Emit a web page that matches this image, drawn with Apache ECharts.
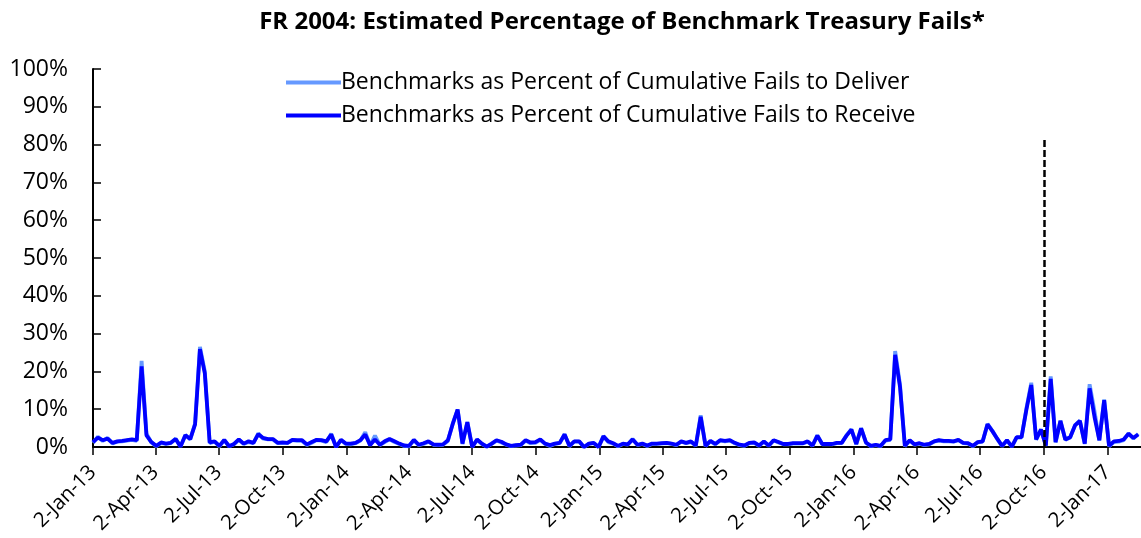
<!DOCTYPE html>
<html>
<head>
<meta charset="utf-8">
<script src="https://cdn.jsdelivr.net/npm/echarts@6/dist/echarts.min.js"></script>
<style>
html,body{margin:0;padding:0;background:#fff;}
#chart{width:1141px;height:538px;}
</style>
</head>
<body>
<div id="chart"></div>
<script>
// ---- data ----
const startDate = '2-Jan-13';           // first weekly observation
const weekStepDays = 7;
const tickLabels = ['2-Jan-13','2-Apr-13','2-Jul-13','2-Oct-13','2-Jan-14','2-Apr-14','2-Jul-14','2-Oct-14',
  '2-Jan-15','2-Apr-15','2-Jul-15','2-Oct-15','2-Jan-16','2-Apr-16','2-Jul-16','2-Oct-16','2-Jan-17'];
const seriesNames = ['Benchmarks as Percent of Cumulative Fails to Deliver','Benchmarks as Percent of Cumulative Fails to Receive'];
const eventDate = '2-Oct-16';
const eventTop = 82;

const failsToReceive = [
1.3,2.5,1.8,2.2,1.1,1.5,1.6,1.8,2.0,1.8,
21.3,3.1,1.3,0.3,1.2,0.9,1.1,2.1,0.1,3.1,
2.1,6.0,25.9,19.5,1.2,1.5,0.3,1.9,0.2,0.8,
2.0,0.9,1.5,1.1,3.4,2.4,2.1,2.1,1.1,1.2,
1.1,1.9,1.8,1.8,0.7,1.3,1.9,1.8,1.5,3.3,
0.0,1.9,0.9,0.9,1.1,1.8,3.3,0.5,2.0,0.6,
1.5,2.1,1.5,0.9,0.4,0.3,1.9,0.6,1.0,1.5,
0.7,0.6,0.7,1.8,6.1,9.9,0.9,6.6,0.0,2.0,
0.9,0.1,0.9,1.8,1.4,0.7,0.3,0.5,0.6,1.8,
1.2,1.3,2.0,0.9,0.5,0.9,1.1,3.3,0.3,1.5,
1.5,0.0,0.9,1.1,0.0,2.8,1.5,1.0,0.3,0.9,
0.7,2.0,0.6,0.9,0.4,0.9,0.9,1.0,1.1,0.9,
0.6,1.5,1.1,1.5,0.4,8.0,0.3,1.6,0.8,1.8,
1.6,1.8,1.1,0.6,0.4,1.1,1.2,0.4,1.5,0.4,
1.8,1.3,0.8,0.8,1.0,1.0,1.0,1.5,0.4,3.0,
0.8,0.8,0.8,1.1,1.1,3.0,4.6,0.8,4.9,1.2,
0.3,0.6,0.3,1.8,2.0,24.4,15.9,0.3,1.8,0.7,
1.0,0.6,0.8,1.5,1.8,1.6,1.6,1.5,1.9,1.1,
1.0,0.3,1.3,1.5,6.0,4.2,2.2,0.3,1.8,0.1,
2.6,2.6,9.9,16.4,2.0,4.6,0.4,18.0,1.3,6.9,
2.0,2.6,5.7,6.9,0.9,15.5,8.0,1.8,12.4,0.3,
1.5,1.6,2.0,3.5,2.4,3.3
];
const failsToDeliver = [
1.1,2.7,1.6,2.4,0.9,1.4,1.5,1.7,1.9,1.6,
22.8,3.5,1.2,0.2,1.0,0.8,1.0,2.2,0.1,3.2,
2.0,6.3,26.5,20.0,1.0,1.4,0.2,1.8,0.2,0.7,
1.9,0.8,1.3,1.0,3.6,2.2,2.0,2.0,1.0,1.0,
1.0,1.8,1.6,1.6,0.5,1.1,1.8,1.7,1.3,3.5,
0.0,1.8,0.8,0.7,1.0,1.7,3.9,0.4,3.0,0.5,
1.3,2.0,1.3,0.8,0.3,0.2,1.8,0.5,0.8,1.4,
0.6,0.5,0.6,1.6,6.2,9.9,0.8,6.6,0.0,1.9,
0.8,0.1,0.8,1.7,1.2,0.6,0.2,0.4,0.5,1.7,
1.0,1.1,1.9,0.8,0.3,0.8,1.0,3.4,0.2,1.4,
1.4,0.0,0.8,1.0,0.0,2.9,1.3,0.9,0.2,0.8,
0.6,2.1,0.5,0.8,0.3,0.8,0.8,0.9,1.0,0.8,
0.5,1.4,1.0,1.3,0.3,8.4,0.2,1.5,0.7,1.7,
1.5,1.7,1.0,0.5,0.3,1.0,1.1,0.3,1.4,0.3,
1.7,1.2,0.7,0.7,0.9,0.9,0.9,1.4,0.3,3.1,
0.7,0.7,0.7,1.0,1.0,3.1,4.7,0.7,5.0,1.1,
0.2,0.5,0.2,1.7,1.9,25.4,16.5,0.2,1.7,0.6,
0.9,0.5,0.7,1.4,1.7,1.5,1.5,1.4,1.8,1.0,
0.9,0.2,1.2,1.4,6.1,4.3,2.1,0.2,1.7,0.1,
2.5,2.5,10.2,17.0,1.9,4.7,0.3,18.7,1.2,7.0,
1.9,2.5,5.8,7.0,0.8,16.6,9.5,1.7,12.6,0.2,
1.3,1.4,1.8,3.6,2.2,3.5
];

// ---- helpers ----
const MONTHS = {Jan:0,Feb:1,Mar:2,Apr:3,May:4,Jun:5,Jul:6,Aug:7,Sep:8,Oct:9,Nov:10,Dec:11};
function parseLabel(s){ const p=s.split('-'); return Date.UTC(2000+Number(p[2]), MONTHS[p[1]], Number(p[0])); }
const t0 = parseLabel(startDate);
function dayOf(label){ return Math.round((parseLabel(label)-t0)/86400000); }
const tickDays = tickLabels.map(dayOf);
const labelByDay = {}; tickLabels.forEach((l,i)=>{ labelByDay[tickDays[i]] = l; });
const xMax = 1509;
const toPoints = arr => arr.map((v,i)=>[i*weekStepDays, v]);

const FONT = '"Open Sans"';
const chart = echarts.init(document.getElementById('chart'), null, {renderer:'canvas'});
chart.setOption({
  animation:false,
  backgroundColor:'#fff',
  title:{
    text:'FR 2004: Estimated Percentage of Benchmark Treasury Fails*',
    left:617, top:5, textAlign:'center',
    textStyle:{fontFamily:FONT, fontWeight:'bold', fontSize:24, color:'#000'}
  },
  legend:{
    orient:'vertical', left:281, top:64, itemWidth:55, itemHeight:4, itemGap:6,
    icon:'rect',
    textStyle:{fontFamily:FONT, fontSize:23, color:'#000', lineHeight:27, padding:[0,0,0,-5]},
    data:seriesNames
  },
  grid:{left:93, right:0, top:69, bottom:91, containLabel:false},
  xAxis:{
    type:'value', min:0, max:xMax,
    axisLine:{show:true, onZero:false, lineStyle:{color:'#000', width:2}},
    axisTick:{show:true, length:8, lineStyle:{color:'#000', width:1.5}, customValues:tickDays},
    axisLabel:{show:true, rotate:45, fontFamily:FONT, fontSize:20.5, color:'#000', margin:22,
      customValues:tickDays, formatter:v=>labelByDay[Math.round(v)]||''},
    splitLine:{show:false}
  },
  yAxis:{
    type:'value', min:0, max:100, interval:10,
    axisLine:{show:true, lineStyle:{color:'#000', width:2}},
    axisTick:{show:true, inside:true, length:8, lineStyle:{color:'#000', width:1.5}},
    axisLabel:{fontFamily:FONT, fontSize:23, color:'#000', margin:25, formatter:'{value}%'},
    splitLine:{show:false}
  },
  series:[
    {name:seriesNames[0], type:'line', data:toPoints(failsToDeliver), showSymbol:false, symbol:'none',
      color:'#6699FF', lineStyle:{color:'#6699FF', width:3.8}, z:2,
      markLine:{silent:true, symbol:'none', label:{show:false},
        lineStyle:{color:'#000', width:2.5, type:[7,3]},
        data:[[{coord:[dayOf(eventDate),0]},{coord:[dayOf(eventDate),eventTop]}]]}},
    {name:seriesNames[1], type:'line', data:toPoints(failsToReceive), showSymbol:false, symbol:'none',
      color:'#0000FF', lineStyle:{color:'#0000FF', width:3.8}, z:3}
  ]
});
</script>
</body>
</html>
